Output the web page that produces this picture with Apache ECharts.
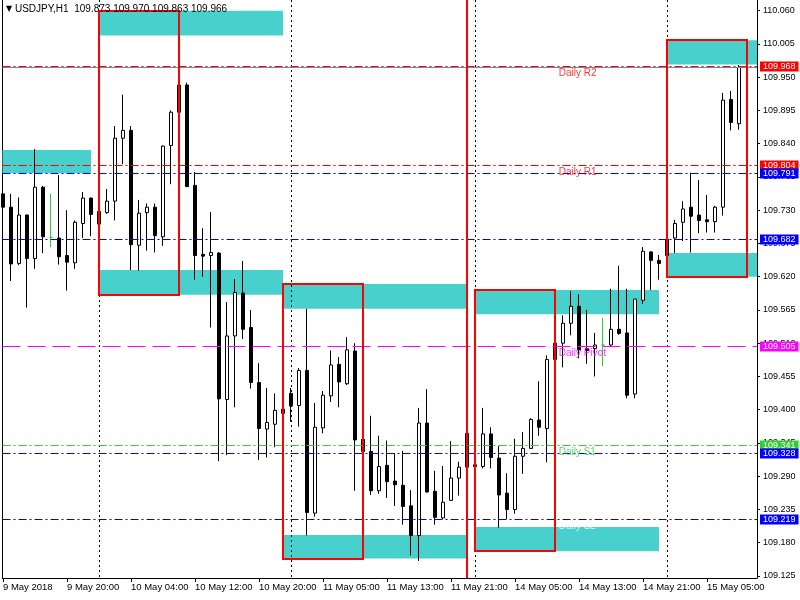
<!DOCTYPE html>
<html><head><meta charset="utf-8">
<script src="https://cdn.jsdelivr.net/npm/echarts@6/dist/echarts.min.js"></script>
<style>html,body{margin:0;padding:0;background:#fff}#c{width:800px;height:600px}</style>
</head><body><div id="c"></div>
<script>
// ---------------- data ----------------
const symbolName = 'USDJPY,H1';
const opens  = [109.757,109.735,109.642,109.722,109.650,109.768,109.685,109.684,109.655,109.643,
                109.708,109.750,109.707,109.726,109.745,109.849,109.862,109.672,109.726,109.735,
                109.686,109.837,109.892,109.937,109.771,109.657,109.655,109.659,109.417,109.522,
                109.593,109.536,109.445,109.368,109.376,109.401,109.427,109.407,109.465,109.229,
                109.370,109.423,109.475,109.443,109.497,109.351,109.331,109.266,109.308,109.282,
                109.275,109.241,109.192,109.378,109.265,109.221,109.250,109.287,109.305,109.309,
                109.306,109.360,109.320,109.262,109.235,109.323,109.336,109.383,109.369,109.483,
                109.510,109.543,109.571,109.501,109.501,109.507,109.507,109.533,109.527,109.426,
                109.581,109.661,109.647,109.655,109.684,109.710,109.735,109.722,109.714,109.711,
                109.735,109.913,109.873];
const highs  = [109.777,109.757,109.751,109.723,109.831,109.770,109.757,109.788,109.730,109.713,
                109.760,109.751,109.735,109.765,109.869,109.921,109.869,109.747,109.741,109.741,
                109.837,109.895,109.945,109.941,109.793,109.700,109.727,109.661,109.578,109.616,
                109.646,109.565,109.477,109.436,109.427,109.433,109.436,109.469,109.567,109.411,
                109.431,109.498,109.487,109.520,109.510,109.426,109.390,109.357,109.349,109.328,
                109.332,109.267,109.403,109.434,109.299,109.307,109.348,109.314,109.380,109.394,
                109.403,109.371,109.340,109.295,109.352,109.363,109.386,109.447,109.490,109.510,
                109.556,109.596,109.591,109.565,109.527,109.552,109.600,109.638,109.600,109.583,
                109.669,109.662,109.656,109.697,109.714,109.745,109.792,109.780,109.755,109.737,
                109.924,109.927,109.970];
const lows   = [109.711,109.613,109.639,109.569,109.633,109.659,109.669,109.640,109.597,109.633,
                109.684,109.687,109.682,109.724,109.713,109.806,109.631,109.630,109.663,109.660,
                109.671,109.773,109.870,109.769,109.615,109.620,109.536,109.315,109.325,109.404,
                109.517,109.435,109.317,109.321,109.338,109.381,109.380,109.372,109.192,109.223,
                109.361,109.413,109.404,109.441,109.266,109.304,109.259,109.261,109.254,109.241,
                109.210,109.159,109.150,109.263,109.210,109.219,109.250,109.258,109.290,109.266,
                109.303,109.303,109.205,109.219,109.228,109.294,109.335,109.357,109.313,109.410,
                109.470,109.523,109.485,109.476,109.455,109.472,109.504,109.524,109.419,109.419,
                109.575,109.598,109.615,109.650,109.659,109.679,109.660,109.692,109.693,109.693,
                109.721,109.862,109.863];
const closes = [109.735,109.641,109.722,109.650,109.768,109.686,109.685,109.653,109.644,109.710,
                109.750,109.723,109.728,109.745,109.849,109.862,109.673,109.725,109.735,109.688,
                109.836,109.892,109.937,109.769,109.655,109.654,109.660,109.418,109.522,109.594,
                109.533,109.445,109.369,109.379,109.399,109.394,109.406,109.465,109.230,109.371,
                109.424,109.474,109.446,109.499,109.350,109.331,109.266,109.306,109.281,109.276,
                109.240,109.192,109.378,109.264,109.222,109.247,109.287,109.305,109.361,109.306,
                109.360,109.321,109.259,109.235,109.323,109.336,109.384,109.371,109.483,109.510,
                109.543,109.571,109.499,109.498,109.507,109.507,109.533,109.526,109.424,109.583,
                109.662,109.647,109.642,109.682,109.708,109.732,109.720,109.713,109.711,109.735,
                109.912,109.875,109.966];

// time axis labels (bar index -> label)
const timeTickIndex  = [0, 8, 16, 24, 32, 40, 48, 56, 64, 72, 80, 88];
const timeTickLabels = ['9 May 2018','9 May 20:00','10 May 04:00','10 May 12:00','10 May 20:00',
                        '11 May 05:00','11 May 13:00','11 May 21:00','14 May 05:00','14 May 13:00',
                        '14 May 21:00','15 May 05:00'];
// price axis tick labels
const priceTicks = [110.060,110.005,109.950,109.895,109.840,109.785,109.730,109.675,109.620,
                    109.565,109.510,109.455,109.400,109.345,109.290,109.235,109.180,109.125];

// horizontal level lines
const levelValues = [109.968, 109.804, 109.791, 109.682, 109.505, 109.341, 109.328, 109.219];
// pivot texts
const pivotNames  = ['Daily R2', 'Daily R1', 'Daily Pivot', 'Daily S1', 'Daily S2'];
const pivotValues = [109.968, 109.804, 109.505, 109.341, 109.219];

// day separators and marker line (bar index)
const daySeparators = [12, 36, 59, 83];
const markerBars = [58];

// supply / demand zones: [startBar, endBar, high, low]
const zoneStart = [12, -1, 12, 35, 35, 59, 59, 83, 83];
const zoneEnd   = [35, 11, 35, 58, 58, 82, 82, 96, 96];
const zoneHigh  = [110.060, 109.8295, 109.631, 109.608, 109.193, 109.206, 109.598, 110.011, 109.659];
const zoneLow   = [110.019, 109.7915, 109.590, 109.567, 109.154, 109.166, 109.558, 109.971, 109.620];

// red boxes: [startBar, endBar, high, low]
const boxStart = [12, 35, 59, 83];
const boxEnd   = [22, 45, 69, 93];
const boxHigh  = [110.059, 109.608, 109.598, 110.011];
const boxLow   = [109.590, 109.153, 109.166, 109.619];

// ---------------- chart ----------------
const FONT = '"Liberation Sans", Arial, sans-serif';
const X_MIN = -0.0625, X_MAX = 94.25;
const Y_MIN = 109.1217, Y_MAX = 110.0776;

const levelColors = ['#ff0000','#ff0000','#0000ff','#0000ff','#ff00ff','#32cd32','#0000ff','#0000ff'];
const levelDash   = [[8,3,2,3],[8,3,2,3],[8,3,2,3],[8,3,2,3],[18,7],[8,3,2,3],[8,3,2,3],[8,3,2,3]];
const pivotColors = ['#ff0000','#ff0000','#ff00ff','#32cd32','#ffffff'];

const last = opens.length - 1;
const candles = opens.map((o, i) => [i, o, closes[i], lows[i], highs[i]]);
const zones = zoneStart.map((s, i) => [s, zoneEnd[i], zoneHigh[i], zoneLow[i]]);
const boxes = boxStart.map((s, i) => [s, boxEnd[i], boxHigh[i], boxLow[i]]);
// level rows: [x, value, styleIndex]; first row = bid line (last close)
const levelRows = [[0, closes[last], -1]].concat(levelValues.map((v, i) => [0, v, i]));

function rectRenderer(fill, stroke, lw) {
  return function (params, api) {
    const p1 = api.coord([api.value(0), api.value(2)]);
    const p2 = api.coord([api.value(1), api.value(3)]);
    let r = {
      x: Math.min(p1[0], p2[0]), y: Math.min(p1[1], p2[1]),
      width: Math.abs(p2[0] - p1[0]), height: Math.abs(p2[1] - p1[1])
    };
    const cs = params.coordSys;
    if (fill) {
      r = echarts.graphic.clipRectByRect(r, {x: cs.x, y: cs.y, width: cs.width, height: cs.height});
      if (!r) return;
    } else {
      r = {x: Math.round(r.x), y: Math.round(r.y), width: Math.round(r.width), height: Math.round(r.height)};
    }
    return {type: 'rect', shape: r, style: {fill: fill || 'none', stroke: stroke || null, lineWidth: lw || 0}};
  };
}

function levelRenderer(params, api) {
  const cs = params.coordSys;
  const v = api.value(1);
  const si = api.value(2);
  const y = Math.round(api.coord([0, v])[1]) + 0.5;
  const color = si < 0 ? '#778899' : levelColors[si];
  const children = [{
    type: 'line', shape: {x1: cs.x, y1: y, x2: cs.x + cs.width, y2: y},
    style: {stroke: color, lineWidth: 1, lineDash: si < 0 ? null : levelDash[si]}
  }];
  if (si >= 0) {
    children.push({
      type: 'text', x: cs.x + cs.width + 3, y: y,
      style: {text: v.toFixed(3), fill: '#ffffff', backgroundColor: color, padding: [1, 3, 0, 3],
        fontFamily: FONT, fontSize: 9, align: 'left', verticalAlign: 'middle'}
    });
  }
  return {type: 'group', children: children};
}

function vLineRenderer(color, width, dash) {
  return function (params, api) {
    const cs = params.coordSys;
    let x = api.coord([api.value(0), 0])[0];
    x = width % 2 ? Math.round(x) + 0.5 : Math.round(x);
    return {type: 'line', shape: {x1: x, y1: cs.y, x2: x, y2: cs.y + cs.height},
      style: {stroke: color, lineWidth: width, lineDash: dash}};
  };
}

const chart = echarts.init(document.getElementById('c'));
chart.setOption({
  animation: false,
  backgroundColor: '#ffffff',
  title: {
    left: 6, top: 4, padding: 0,
    text: '{t|▼} ' + symbolName + '  ' + [opens[last], highs[last], lows[last], closes[last]].map(v => v.toFixed(3)).join(' '),
    textStyle: {fontFamily: FONT, fontSize: 10, fontWeight: 'normal', color: '#000',
      rich: {t: {fontSize: 8, color: '#000', fontFamily: '"DejaVu Sans", sans-serif'}}}
  },
  grid: {left: 2.5, right: 43, top: 0, bottom: 22, containLabel: false},
  xAxis: {
    type: 'value', min: X_MIN, max: X_MAX,
    axisLine: {show: true, onZero: false, lineStyle: {color: '#000', width: 1}},
    axisTick: {show: true, length: 4, customValues: timeTickIndex, lineStyle: {color: '#000'}},
    axisLabel: {show: true, customValues: timeTickIndex, align: 'left', margin: 4,
      fontFamily: FONT, fontSize: 9.5, color: '#000',
      formatter: v => { const i = timeTickIndex.indexOf(Math.round(v)); return i >= 0 ? timeTickLabels[i] : ''; }},
    splitLine: {show: false}
  },
  yAxis: [{
    type: 'value', position: 'right', min: Y_MIN, max: Y_MAX, scale: true,
    axisLine: {show: true, onZero: false, lineStyle: {color: '#000', width: 1}},
    axisTick: {show: true, length: 3, customValues: priceTicks, lineStyle: {color: '#000'}},
    axisLabel: {show: true, customValues: priceTicks, margin: 6, fontFamily: FONT, fontSize: 9, color: '#000',
      formatter: v => v.toFixed(3)},
    splitLine: {show: false}
  }, {
    type: 'value', position: 'left', min: Y_MIN, max: Y_MAX, scale: true,
    axisLine: {show: true, onZero: false, lineStyle: {color: '#000', width: 1}},
    axisTick: {show: false}, axisLabel: {show: false}, splitLine: {show: false}
  }],
  series: [
    { // zones
      type: 'custom', z: 1, silent: true, clip: true,
      renderItem: rectRenderer('#48d1cc', null, 0),
      encode: {x: [0, 1], y: [2, 3]},
      data: zones
    },
    { // day separators
      type: 'custom', z: 1.5, silent: true, clip: false,
      renderItem: vLineRenderer('#000000', 1, [2, 3]),
      encode: {x: 0},
      data: daySeparators.map(v => [v])
    },
    { // candles
      type: 'candlestick', z: 2, barWidth: 4, clip: true, silent: true,
      itemStyle: {color: '#ffffff', color0: '#000000', borderColor: '#000000', borderColor0: '#000000',
        borderColorDoji: '#32cd32', borderWidth: 1},
      data: candles
    },
    { // level lines + bid line
      type: 'custom', z: 3, silent: true, clip: false,
      renderItem: levelRenderer,
      encode: {x: 0, y: 1},
      data: levelRows
    },
    { // red boxes
      type: 'custom', z: 4, silent: true, clip: false,
      renderItem: rectRenderer(null, '#ff0000', 2),
      encode: {x: [0, 1], y: [2, 3]},
      data: boxes
    },
    { // red marker line
      type: 'custom', z: 4, silent: true, clip: false,
      renderItem: vLineRenderer('#ff0000', 2, null),
      encode: {x: 0},
      data: markerBars.map(v => [v])
    },
    { // pivot texts
      type: 'scatter', z: 5, silent: true, symbolSize: 1,
      itemStyle: {color: 'rgba(0,0,0,0)'},
      label: {show: true, position: 'right', distance: 0, offset: [0, 7], fontFamily: FONT, fontSize: 10,
        formatter: p => p.name},
      data: pivotNames.map((n, i) => ({name: n, value: [69.4, pivotValues[i]], label: {color: pivotColors[i]}}))
    }
  ]
});
</script></body></html>
